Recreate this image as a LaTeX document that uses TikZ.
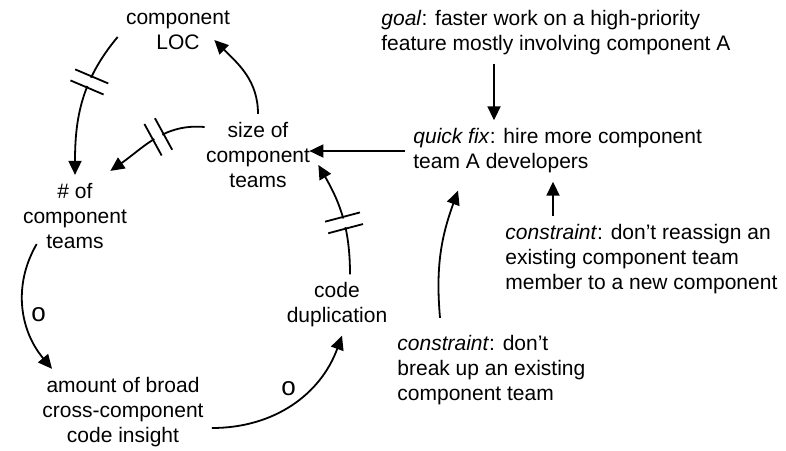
\documentclass[tikz,border=0pt]{standalone}
\usepackage{fontspec}
\setmainfont{Liberation Sans}
\usetikzlibrary{
    arrows.meta,
    positioning,
    decorations.markings,
}

\begin{document}
\begin{tikzpicture}[
    x=0.5pt, y=-0.5pt,
    every node/.style={font=\fontsize{10.5}{12.5}\selectfont},
    var/.style={align=center, inner sep=4pt},
    note/.style={align=left, anchor=west, inner sep=4pt},
    link/.style={-{Triangle[length=7pt, width=6.5pt]}, line width=0.9pt},
    delay/.style={postaction={decorate}, decoration={markings,
        mark=at position #1 with {
            \fill[white] (-2.2pt,-1.5pt) rectangle (2.2pt,1.5pt);
            \draw[-, line width=0.9pt] (-3pt,-9pt) -- (-3pt,9pt) (3pt,-9pt) -- (3pt,9pt);
        }}},
    sign/.style={inner sep=1pt, font=\fontsize{13}{13}\selectfont},
]
\useasboundingbox (0,0) rectangle (786,450);

% variables of the loop
\node[var] (loc) at (178,30) {component\\LOC};
\node[var] (size) at (258,155) {size of\\component\\teams};
\node[var] (teams) at (75,216) {\# of\\component\\teams};
\node[var] (dup) at (337,305) {code\\duplication};
\node[var] (insight) at (123,412) {amount of broad\\cross-component\\code insight};

% goal, fix and constraints
\node[note] (goal) at (373,33) {\textit{goal}: faster work on a high-priority\\feature mostly involving component A};
\node[note] (quick) at (405,151) {\textit{quick fix}: hire more component\\team A developers};
\node[note] (reassign) at (497,259) {\textit{constraint}: don’t reassign an\\existing component team\\member to a new component};
\node[note] (breakup) at (389,370) {\textit{constraint}: don’t\\break up an existing\\component team};

\draw[link, delay=0.36] ([yshift=-3.5pt]loc.west) to[out=230, in=90] (teams.north);
\draw[link] (size.north) to[out=90, in=-45] ([xshift=-12pt, yshift=-5pt]loc.east);
\draw[link, delay=0.45] ([xshift=3.5pt, yshift=14pt]size.west) to[out=175, in=35] ([xshift=-12.5pt, yshift=2pt]teams.north east);
\draw[link, shorten >=-4.5pt] (quick.west) -- (quick.west -| size.east);
\draw[link] ([xshift=60.5pt]goal.south west) -- ([xshift=60.5pt]goal.south west |- quick.north);
\draw[link] ([xshift=28pt]reassign.north west) -- ([xshift=28pt]reassign.north west |- quick.south);
\draw[link] ([xshift=25.5pt, yshift=4.5pt]breakup.north west) to[out=95, in=-110] ([xshift=26.5pt, yshift=-4.5pt]quick.south west);
\draw[link, delay=0.45] ([xshift=6.5pt]dup.north) to[out=90, in=-60] ([yshift=-5pt]size.east);
\draw[link] ([xshift=11pt, yshift=6.5pt]teams.south west) to[out=240, in=130] node[sign, pos=0.55, right=2pt] {o} ([xshift=-35.5pt]insight.north);
\draw[link] ([yshift=-8pt]insight.east) to[out=0, in=-110] node[sign, pos=0.55, above left=0pt] {o} ([xshift=2.5pt]dup.south);

\end{tikzpicture}
\end{document}
